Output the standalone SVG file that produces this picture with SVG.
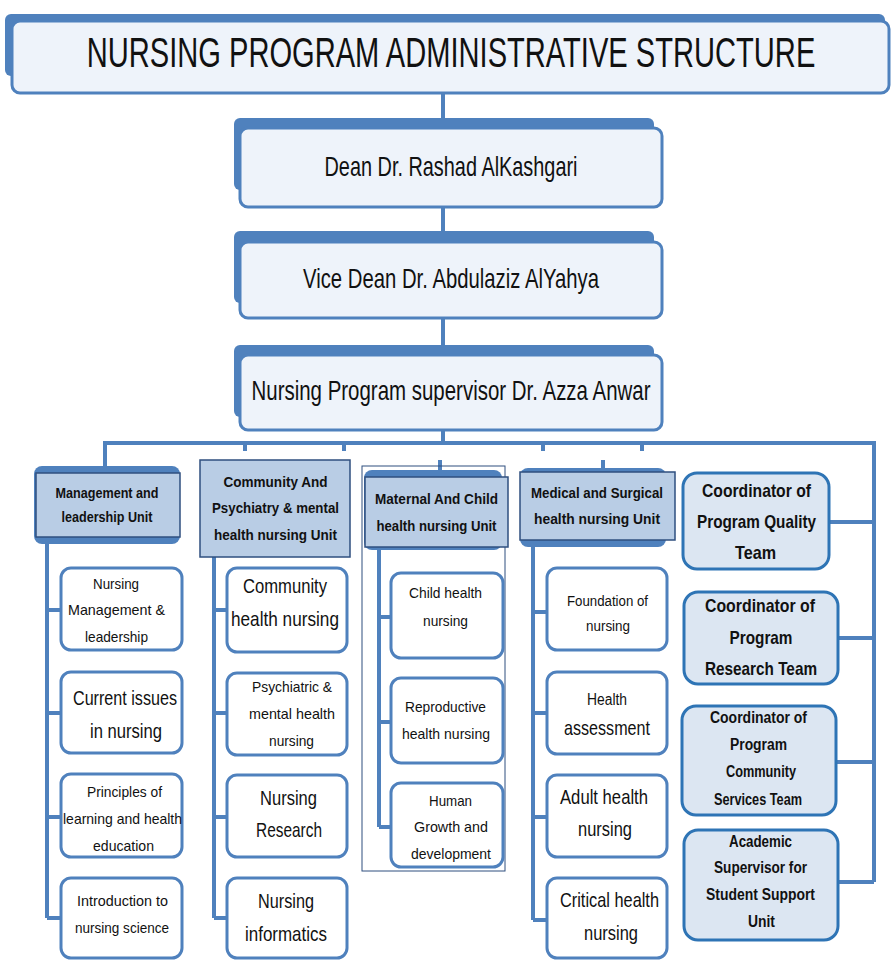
<svg xmlns="http://www.w3.org/2000/svg" width="893" height="961" viewBox="0 0 893 961">
<style>
text{font-family:"Liberation Sans",Arial,sans-serif;text-anchor:middle;fill:#111}
.back{fill:#4f81bd}
.front{fill:#eef3fa;stroke:#4f81bd;stroke-width:3}
.unit{fill:#b9cde5;stroke:#2f4f7f;stroke-width:1.5}
.coord{fill:#dce6f2;stroke:#2e74b5;stroke-width:3}
.course{fill:#fff;stroke:#4f81bd;stroke-width:3}
.ln{stroke:#4f81bd;stroke-width:4;fill:none}
.h{font-size:43px}
.t{font-size:28px}
.u{font-size:15px;font-weight:bold}
.c19{font-size:19px;font-weight:bold}
.c16{font-size:16px;font-weight:bold}
.s{font-size:15px}
.m{font-size:21px}
</style>
<g id="connectors">
<path class="ln" d="M443 93V128M443 207V242M443 318V355M443 430V443"/>
<path class="ln" d="M105 443H874V882M105 441V470M245 443V451M344 443V451M543 443V451M642 443V451M440 460V477M603 460V472"/>
<path class="ln" d="M828 522H874M839 638H874M837 762H874M839 882H874"/>
<path class="ln" d="M47 540V918M47 610H61M47 713H61M47 817H61M47 918H61"/>
<path class="ln" d="M214 557V918M214 610H227M214 713H227M214 817H227M214 918H227"/>
<path class="ln" d="M379 548V827M379 617H391M379 722H391M379 827H391"/>
<path class="ln" d="M533 540V920M533 612H547M533 713H547M533 817H547M533 920H547"/>
</g>
<g id="title">
<rect class="back" x="5" y="14" width="880" height="62" rx="6"/>
<rect class="front" x="12" y="21" width="877" height="72" rx="8"/>
<text class="h" transform="translate(451,67) scale(0.677,1)" x="0" y="0">NURSING PROGRAM ADMINISTRATIVE STRUCTURE</text>
</g>
<g id="dean">
<rect class="back" x="234" y="118" width="420" height="72" rx="6"/>
<rect class="front" x="240" y="128" width="422" height="79" rx="8"/>
<text class="t" x="451" y="176" textLength="253" lengthAdjust="spacingAndGlyphs">Dean Dr. Rashad AlKashgari</text>
</g>
<g id="vicedean">
<rect class="back" x="234" y="231" width="420" height="72" rx="6"/>
<rect class="front" x="240" y="242" width="422" height="76" rx="8"/>
<text class="t" x="451" y="288" textLength="296" lengthAdjust="spacingAndGlyphs">Vice Dean Dr. Abdulaziz AlYahya</text>
</g>
<g id="supervisor">
<rect class="back" x="234" y="345" width="420" height="72" rx="6"/>
<rect class="front" x="240" y="355" width="422" height="75" rx="8"/>
<text class="t" x="451" y="400" textLength="399" lengthAdjust="spacingAndGlyphs">Nursing Program supervisor Dr. Azza Anwar</text>
</g>
<g id="management-unit">
<rect class="back" x="34" y="466" width="146" height="78" rx="8"/>
<rect class="unit" x="36" y="473" width="144" height="64"/>
<text class="u" x="107" y="498" textLength="103" lengthAdjust="spacingAndGlyphs">Management and</text>
<text class="u" x="107" y="522" textLength="91" lengthAdjust="spacingAndGlyphs">leadership  Unit</text>
</g>
<g id="community-unit">
<rect class="unit" x="200" y="460" width="150" height="97"/>
<text class="u" x="275.5" y="487" textLength="104" lengthAdjust="spacingAndGlyphs">Community And</text>
<text class="u" x="275.5" y="513" textLength="127" lengthAdjust="spacingAndGlyphs">Psychiatry &amp; mental</text>
<text class="u" x="275.5" y="540" textLength="123" lengthAdjust="spacingAndGlyphs">health nursing Unit</text>
</g>
<g id="maternal-unit">
<rect x="362" y="466" width="143" height="405" fill="none" stroke="#2f4f7f" stroke-width="1"/>
<rect class="back" x="364" y="470" width="138" height="80" rx="8"/>
<rect class="unit" x="365" y="477" width="143" height="70"/>
<text class="u" x="436.5" y="504" textLength="123" lengthAdjust="spacingAndGlyphs">Maternal And Child</text>
<text class="u" x="436.5" y="531" textLength="120" lengthAdjust="spacingAndGlyphs">health nursing Unit</text>
</g>
<g id="medical-unit">
<rect class="back" x="520" y="468" width="146" height="79" rx="8"/>
<rect class="unit" x="520" y="472" width="155" height="68"/>
<text class="u" x="597" y="498" textLength="132" lengthAdjust="spacingAndGlyphs">Medical and Surgical</text>
<text class="u" x="597" y="524" textLength="126" lengthAdjust="spacingAndGlyphs">health nursing  Unit</text>
</g>
<g id="quality">
<rect class="coord" x="683" y="473" width="146" height="96" rx="14"/>
<text class="c19" x="756.5" y="497" textLength="109" lengthAdjust="spacingAndGlyphs">Coordinator of</text>
<text class="c19" x="756.5" y="528" textLength="119" lengthAdjust="spacingAndGlyphs">Program Quality</text>
<text class="c19" x="755.5" y="559" textLength="41" lengthAdjust="spacingAndGlyphs">Team</text>
</g>
<g id="research">
<rect class="coord" x="684" y="592" width="154" height="92" rx="14"/>
<text class="c19" x="760" y="612" textLength="110" lengthAdjust="spacingAndGlyphs">Coordinator of</text>
<text class="c19" x="761" y="644" textLength="63" lengthAdjust="spacingAndGlyphs">Program</text>
<text class="c19" x="761" y="675" textLength="112" lengthAdjust="spacingAndGlyphs">Research Team</text>
</g>
<g id="community-services">
<rect class="coord" x="682" y="706" width="154" height="109" rx="14"/>
<text class="c16" x="758.5" y="723" textLength="97" lengthAdjust="spacingAndGlyphs">Coordinator of</text>
<text class="c16" x="758.5" y="750" textLength="57" lengthAdjust="spacingAndGlyphs">Program</text>
<text class="c16" x="761" y="777" textLength="70" lengthAdjust="spacingAndGlyphs">Community</text>
<text class="c16" x="758" y="805" textLength="88" lengthAdjust="spacingAndGlyphs">Services Team</text>
</g>
<g id="academic">
<rect class="coord" x="684" y="830" width="154" height="110" rx="14"/>
<text class="c16" x="760.5" y="847" textLength="63" lengthAdjust="spacingAndGlyphs">Academic</text>
<text class="c16" x="760.5" y="873" textLength="93" lengthAdjust="spacingAndGlyphs">Supervisor for</text>
<text class="c16" x="760.5" y="900" textLength="109" lengthAdjust="spacingAndGlyphs">Student Support</text>
<text class="c16" x="761.5" y="927" textLength="27" lengthAdjust="spacingAndGlyphs">Unit</text>
</g>
<g id="nursing-management">
<rect class="course" x="61" y="568" width="121" height="82" rx="10"/>
<text class="s" x="116" y="589" textLength="46" lengthAdjust="spacingAndGlyphs">Nursing</text>
<text class="s" x="116.5" y="615" textLength="97" lengthAdjust="spacingAndGlyphs">Management &amp;</text>
<text class="s" x="116.5" y="642" textLength="63" lengthAdjust="spacingAndGlyphs">leadership</text>
</g>
<g id="current-issues">
<rect class="course" x="61" y="672" width="121" height="81" rx="10"/>
<text class="m" x="125" y="705" textLength="104" lengthAdjust="spacingAndGlyphs">Current issues</text>
<text class="m" x="126" y="738" textLength="72" lengthAdjust="spacingAndGlyphs">in nursing</text>
</g>
<g id="principles">
<rect class="course" x="61" y="774" width="121" height="83" rx="10"/>
<text class="s" x="124.5" y="797" textLength="75" lengthAdjust="spacingAndGlyphs">Principles of</text>
<text class="s" x="122.5" y="824" textLength="119" lengthAdjust="spacingAndGlyphs">learning and health</text>
<text class="s" x="123.5" y="851" textLength="61" lengthAdjust="spacingAndGlyphs">education</text>
</g>
<g id="introduction">
<rect class="course" x="61" y="878" width="121" height="80" rx="10"/>
<text class="s" x="122.5" y="906" textLength="91" lengthAdjust="spacingAndGlyphs">Introduction  to</text>
<text class="s" x="122" y="933" textLength="94" lengthAdjust="spacingAndGlyphs">nursing science</text>
</g>
<g id="community-health">
<rect class="course" x="227" y="568" width="120" height="84" rx="10"/>
<text class="m" x="285" y="593" textLength="84" lengthAdjust="spacingAndGlyphs">Community</text>
<text class="m" x="285" y="626" textLength="108" lengthAdjust="spacingAndGlyphs">health  nursing</text>
</g>
<g id="psychiatric">
<rect class="course" x="227" y="673" width="120" height="82" rx="10"/>
<text class="s" x="292" y="692" textLength="80" lengthAdjust="spacingAndGlyphs">Psychiatric &amp;</text>
<text class="s" x="292" y="719" textLength="86" lengthAdjust="spacingAndGlyphs">mental health</text>
<text class="s" x="291.5" y="746" textLength="45" lengthAdjust="spacingAndGlyphs">nursing</text>
</g>
<g id="nursing-research">
<rect class="course" x="227" y="775" width="120" height="82" rx="10"/>
<text class="m" x="288.5" y="805" textLength="57" lengthAdjust="spacingAndGlyphs">Nursing</text>
<text class="m" x="289" y="837" textLength="66" lengthAdjust="spacingAndGlyphs">Research</text>
</g>
<g id="nursing-informatics">
<rect class="course" x="227" y="878" width="120" height="80" rx="10"/>
<text class="m" x="286" y="908" textLength="56" lengthAdjust="spacingAndGlyphs">Nursing</text>
<text class="m" x="286" y="941" textLength="82" lengthAdjust="spacingAndGlyphs">informatics</text>
</g>
<g id="child-health">
<rect class="course" x="391" y="573" width="112" height="85" rx="10"/>
<text class="s" x="445.5" y="598" textLength="73" lengthAdjust="spacingAndGlyphs">Child health</text>
<text class="s" x="445.5" y="626" textLength="45" lengthAdjust="spacingAndGlyphs">nursing</text>
</g>
<g id="reproductive">
<rect class="course" x="391" y="678" width="112" height="85" rx="10"/>
<text class="s" x="445.5" y="712" textLength="81" lengthAdjust="spacingAndGlyphs">Reproductive</text>
<text class="s" x="446" y="739" textLength="88" lengthAdjust="spacingAndGlyphs">health nursing</text>
</g>
<g id="human-growth">
<rect class="course" x="391" y="783" width="112" height="84" rx="10"/>
<text class="s" x="450.5" y="806" textLength="43" lengthAdjust="spacingAndGlyphs">Human</text>
<text class="s" x="451" y="832" textLength="74" lengthAdjust="spacingAndGlyphs">Growth  and</text>
<text class="s" x="451" y="859" textLength="80" lengthAdjust="spacingAndGlyphs">development</text>
</g>
<g id="foundation">
<rect class="course" x="547" y="568" width="120" height="82" rx="10"/>
<text class="s" x="607.5" y="606" style="font-size:14px" textLength="81" lengthAdjust="spacingAndGlyphs">Foundation of</text>
<text class="s" x="608" y="631" style="font-size:14px" textLength="44" lengthAdjust="spacingAndGlyphs">nursing</text>
</g>
<g id="health-assessment">
<rect class="course" x="547" y="672" width="120" height="82" rx="10"/>
<text class="s" x="607" y="705" style="font-size:16px" textLength="40" lengthAdjust="spacingAndGlyphs">Health</text>
<text class="m" x="607" y="735" textLength="86" lengthAdjust="spacingAndGlyphs">assessment</text>
</g>
<g id="adult-health">
<rect class="course" x="547" y="775" width="120" height="82" rx="10"/>
<text class="m" x="604" y="804" textLength="88" lengthAdjust="spacingAndGlyphs">Adult health</text>
<text class="m" x="605" y="836" textLength="54" lengthAdjust="spacingAndGlyphs">nursing</text>
</g>
<g id="critical-health">
<rect class="course" x="547" y="878" width="120" height="80" rx="10"/>
<text class="m" x="609.5" y="907" textLength="99" lengthAdjust="spacingAndGlyphs">Critical health</text>
<text class="m" x="611" y="940" textLength="54" lengthAdjust="spacingAndGlyphs">nursing</text>
</g>
</svg>
